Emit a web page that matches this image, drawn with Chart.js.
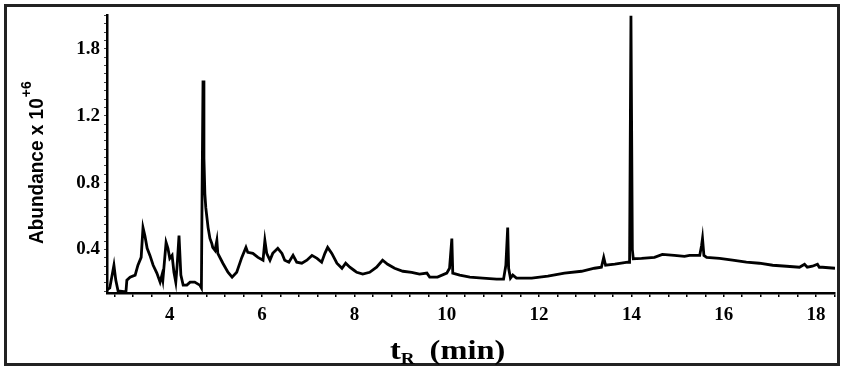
<!DOCTYPE html>
<html>
<head>
<meta charset="utf-8">
<title>Chromatogram</title>
<script src="https://cdn.jsdelivr.net/npm/chart.js@4/dist/chart.umd.min.js"></script>
<style>
	html, body { margin: 0; padding: 0; background: #fff; }
	#wrap { width: 846px; height: 374px; }
</style>
</head>
<body>
<div id="wrap"><canvas id="chart" width="846" height="374"></canvas></div>
<script>
'use strict';

// retention time (min)
var retentionTimes = [
	2.64, 2.70, 2.79, 2.83, 2.88, 3.05, 3.07, 3.14, 3.25, 3.31,
	3.38, 3.42, 3.46, 3.51, 3.57, 3.64, 3.72, 3.79, 3.83, 3.85,
	3.92, 3.96, 4.00, 4.05, 4.09, 4.13, 4.16, 4.20, 4.24, 4.29,
	4.37, 4.44, 4.54, 4.65, 4.685, 4.70, 4.72, 4.74, 4.76, 4.78,
	4.83, 4.87, 4.91, 4.93, 4.98, 5.02, 5.04, 5.15, 5.26, 5.35,
	5.45, 5.56, 5.65, 5.69, 5.80, 5.91, 6.02, 6.06, 6.10, 6.17,
	6.23, 6.34, 6.43, 6.49, 6.58, 6.67, 6.75, 6.86, 6.97, 7.08,
	7.19, 7.29, 7.36, 7.42, 7.51, 7.62, 7.73, 7.81, 7.90, 7.99,
	8.05, 8.18, 8.33, 8.48, 8.61, 8.72, 8.87, 9.05, 9.24, 9.41,
	9.57, 9.63, 9.80, 10.00, 10.06, 10.11, 10.13, 10.28, 10.50, 10.78,
	11.08, 11.23, 11.28, 11.32, 11.34, 11.38, 11.43, 11.51, 11.84, 12.19,
	12.55, 12.92, 13.20, 13.35, 13.40, 13.44, 13.64, 13.92, 13.96, 13.99,
	14.02, 14.04, 14.22, 14.50, 14.67, 14.93, 15.15, 15.26, 15.48, 15.52,
	15.54, 15.57, 15.63, 15.91, 16.19, 16.49, 16.77, 17.06, 17.36, 17.64,
	17.75, 17.81, 17.92, 18.03, 18.07, 18.14, 18.41
];

// abundance (x 10^6)
var abundance = [
	0.158, 0.17, 0.306, 0.217, 0.152, 0.146, 0.217, 0.235, 0.247, 0.306,
	0.353, 0.531, 0.484, 0.407, 0.365, 0.306, 0.259, 0.205, 0.247, 0.217,
	0.442, 0.407, 0.347, 0.365, 0.264, 0.205, 0.306, 0.484, 0.247, 0.187,
	0.187, 0.205, 0.205, 0.187, 0.17, 0.75, 1.41, 0.946, 0.733, 0.65,
	0.531, 0.466, 0.436, 0.413, 0.395, 0.454, 0.377, 0.318, 0.264, 0.235,
	0.264, 0.353, 0.413, 0.383, 0.377, 0.353, 0.336, 0.454, 0.377, 0.336,
	0.377, 0.407, 0.377, 0.336, 0.324, 0.365, 0.324, 0.318, 0.336, 0.365,
	0.347, 0.324, 0.377, 0.413, 0.377, 0.318, 0.288, 0.318, 0.294, 0.276,
	0.264, 0.253, 0.264, 0.294, 0.336, 0.312, 0.288, 0.27, 0.264, 0.253,
	0.259, 0.235, 0.235, 0.259, 0.288, 0.466, 0.259, 0.247, 0.235, 0.229,
	0.223, 0.223, 0.306, 0.531, 0.288, 0.229, 0.247, 0.229, 0.229, 0.241,
	0.259, 0.27, 0.288, 0.294, 0.353, 0.306, 0.312, 0.324, 0.324, 1.80,
	0.40, 0.345, 0.347, 0.353, 0.371, 0.365, 0.359, 0.365, 0.365, 0.424,
	0.466, 0.365, 0.353, 0.347, 0.336, 0.324, 0.318, 0.306, 0.30, 0.294,
	0.312, 0.294, 0.30, 0.312, 0.294, 0.294, 0.288
];

// y tick positions and the labels printed there (top one reads 1.8 in the figure)
var yTickValues = [0.4, 0.8, 1.2, 1.6];
var yTickLabels = ['0.4', '0.8', '1.2', '1.8'];
var xTickLabels = [4, 6, 8, 10, 12, 14, 16, 18];

var points = retentionTimes.map(function(t, i) {
	return {x: t, y: abundance[i]};
});

function near(a, b) {
	return Math.abs(a - b) < 1e-6;
}

var decorations = {
	id: 'decorations',
	afterDraw: function(chart) {
		var ctx = chart.ctx;
		var w;

		ctx.save();
		// frame round the whole figure
		ctx.strokeStyle = '#222';
		ctx.lineWidth = 3;
		ctx.strokeRect(5.5, 5.5, 833, 359);

		// y axis title, rotated, with superscript
		ctx.fillStyle = '#000';
		ctx.translate(43, 244);
		ctx.rotate(-Math.PI / 2);
		ctx.scale(1, 1.1);
		ctx.font = 'bold 19px "Liberation Sans", Arial, sans-serif';
		ctx.textAlign = 'left';
		ctx.textBaseline = 'alphabetic';
		ctx.fillText('Abundance x 10', 0, 0);
		w = ctx.measureText('Abundance x 10').width;
		ctx.font = 'bold 14px "Liberation Sans", Arial, sans-serif';
		ctx.fillText('+6', w + 1, -11);
		ctx.restore();

		// x axis title: t_R (min)
		ctx.save();
		ctx.fillStyle = '#000';
		ctx.translate(390, 359);
		ctx.scale(1.2, 1);
		ctx.textBaseline = 'alphabetic';
		ctx.textAlign = 'left';
		ctx.font = 'bold 27px "Liberation Serif", "Times New Roman", serif';
		ctx.fillText('t', 0, 0);
		w = ctx.measureText('t').width;
		ctx.font = 'bold 16px "Liberation Serif", "Times New Roman", serif';
		ctx.fillText('R', w, 5);
		ctx.font = 'bold 27px "Liberation Serif", "Times New Roman", serif';
		ctx.fillText('(min)', 33, 0);
		ctx.restore();
	}
};

var ctx = document.getElementById('chart').getContext('2d');

var chart = new Chart(ctx, {
	type: 'line',
	data: {
		datasets: [{
			data: points,
			borderColor: '#000',
			borderWidth: 2.8,
			pointRadius: 0,
			tension: 0,
			fill: false
		}]
	},
	options: {
		responsive: false,
		animation: false,
		layout: {padding: {left: 0, right: 11, top: 12, bottom: 0}},
		plugins: {
			legend: {display: false},
			tooltip: {enabled: false},
			title: {display: false}
		},
		scales: {
			x: {
				type: 'linear',
				min: 2.64,
				max: 18.41,
				border: {display: true, color: '#000', width: 2.5},
				grid: {drawOnChartArea: false, drawTicks: true, tickLength: 4, color: '#000', lineWidth: 1.5},
				ticks: {
					stepSize: 0.4,
					includeBounds: false,
					autoSkip: false,
					maxRotation: 0,
					padding: 7,
					color: '#000',
					font: {family: '"Liberation Serif", "Times New Roman", serif', size: 19, weight: 'bold'},
					callback: function(value) {
						var r = Math.round(value);
						if (near(value, r) && xTickLabels.indexOf(r) !== -1) {
							return String(r);
						}
						return '';
					}
				},
				afterFit: function(scale) {
					scale.height = 81;
				}
			},
			y: {
				type: 'linear',
				min: 0.14,
				max: 1.8,
				border: {display: true, color: '#000', width: 2.5},
				grid: {drawOnChartArea: false, drawTicks: true, tickLength: 3, color: '#444', lineWidth: 1},
				ticks: {
					stepSize: 0.05,
					includeBounds: false,
					autoSkip: false,
					padding: 4,
					color: '#000',
					font: {family: '"Liberation Serif", "Times New Roman", serif', size: 19, weight: 'bold'},
					callback: function(value) {
						for (var i = 0; i < yTickValues.length; i++) {
							if (near(value, yTickValues[i])) {
								return yTickLabels[i];
							}
						}
						return '';
					}
				},
				afterFit: function(scale) {
					scale.width = 107;
				}
			}
		}
	},
	plugins: [decorations]
});
</script>
</body>
</html>
